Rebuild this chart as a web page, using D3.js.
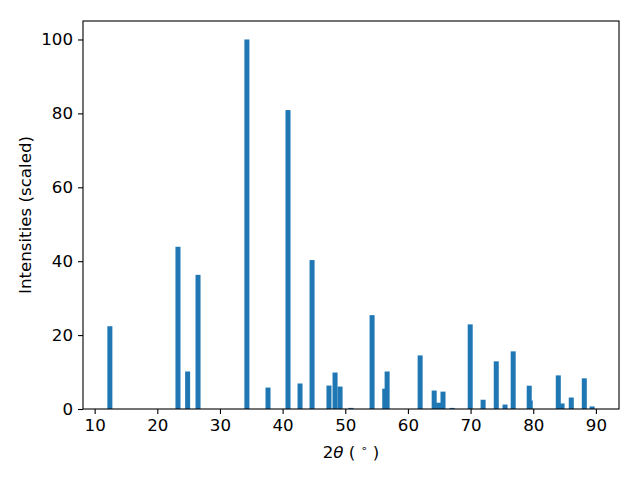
<!DOCTYPE html>
<html>
<head>
<meta charset="utf-8">
<script src="https://cdn.jsdelivr.net/npm/d3@7"></script>
<style>
  body { margin: 0; background: #fff; }
  svg text { font-family: "DejaVu Sans", sans-serif; fill: #000; }
</style>
</head>
<body>
<svg id="chart"></svg>
<script>
// Peak positions (2theta, degrees)
var angles = [12.43, 23.3, 24.84, 26.5, 34.3, 37.67, 40.86, 42.78, 44.7, 47.4,
  48.37, 49.17, 50.9, 54.28, 56.3, 56.68, 61.95, 64.19, 64.9, 65.6,
  67.06, 69.94, 72.0, 74.1, 75.5, 76.8, 79.36, 79.52, 84.0, 84.6,
  86.07, 88.15, 89.4];

// Scaled intensities
var intensities = [22.4, 43.9, 10.15, 36.3, 100, 5.8, 80.9, 6.9, 40.3, 6.34,
  9.87, 6.07, 0.3, 25.4, 5.5, 10.15, 14.5, 5.0, 1.7, 4.7,
  0.3, 22.9, 2.5, 12.9, 1.2, 15.6, 6.3, 2.3, 9.1, 1.5,
  3.1, 8.3, 0.7];

var xTicks = [10, 20, 30, 40, 50, 60, 70, 80, 90];
var yTicks = [0, 20, 40, 60, 80, 100];

var peaks = angles.map(function(a, i){ return {angle: a, value: intensities[i]}; });

// General vars
var width = 640,
    height = 480,
    margin = {top: 21, right: 21, bottom: 71, left: 83},
    barWidth = 0.8,
    fontSize = '16.67px';

// matplotlib style 5% padding around the bar extent
var lo = d3.min(angles) - barWidth/2,
    hi = d3.max(angles) + barWidth/2,
    pad = (hi - lo) * 0.05;

var x = d3.scaleLinear()
  .domain([lo - pad, hi + pad])
  .range([margin.left, width - margin.right]);

var y = d3.scaleLinear()
  .domain([0, d3.max(intensities) * 1.05])
  .range([height - margin.bottom, margin.top]);

var svg = d3.select('svg#chart')
  .attr('width', width)
  .attr('height', height);

// The bars
svg.append('g')
  .selectAll('rect')
  .data(peaks)
  .enter().append('rect')
    .attr('x', function(d){ return x(d.angle - barWidth/2); })
    .attr('width', function(d){ return x(d.angle + barWidth/2) - x(d.angle - barWidth/2); })
    .attr('y', function(d){ return y(d.value); })
    .attr('height', function(d){ return y(0) - y(d.value); })
    .attr('fill', '#1f77b4');

// Axes
var xAxis = svg.append('g')
  .attr('transform', 'translate(0,' + (height - margin.bottom) + ')')
  .call(d3.axisBottom(x).tickValues(xTicks).tickSize(5).tickPadding(5));

var yAxis = svg.append('g')
  .attr('transform', 'translate(' + margin.left + ',0)')
  .call(d3.axisLeft(y).tickValues(yTicks).tickSize(5).tickPadding(5));

[xAxis, yAxis].forEach(function(a){
  a.select('.domain').remove();
  a.selectAll('line').attr('stroke', '#000').attr('stroke-width', 1.1);
  a.selectAll('text').style('font-size', fontSize).style('font-family', '"DejaVu Sans", sans-serif');
});

// Frame
svg.append('rect')
  .attr('x', margin.left)
  .attr('y', margin.top)
  .attr('width', width - margin.left - margin.right)
  .attr('height', height - margin.top - margin.bottom)
  .attr('fill', 'none')
  .attr('stroke', '#000')
  .attr('stroke-width', 1.1);

// Axis labels
var xl = svg.append('text')
  .attr('x', (margin.left + width - margin.right) / 2)
  .attr('y', 458)
  .attr('text-anchor', 'middle')
  .style('font-size', fontSize)
  .style('white-space', 'pre');
xl.append('tspan').text('2');
xl.append('tspan').style('font-style', 'italic').text('θ');
xl.append('tspan').text(' ( ');
xl.append('tspan').attr('dy', -6).style('font-size', '11px').text('∘');
xl.append('tspan').attr('dy', 6).text(' )');

svg.append('text')
  .attr('transform', 'translate(31,' + ((margin.top + height - margin.bottom) / 2) + ') rotate(-90)')
  .attr('text-anchor', 'middle')
  .style('font-size', fontSize)
  .text('Intensities (scaled)');
</script>
</body>
</html>
